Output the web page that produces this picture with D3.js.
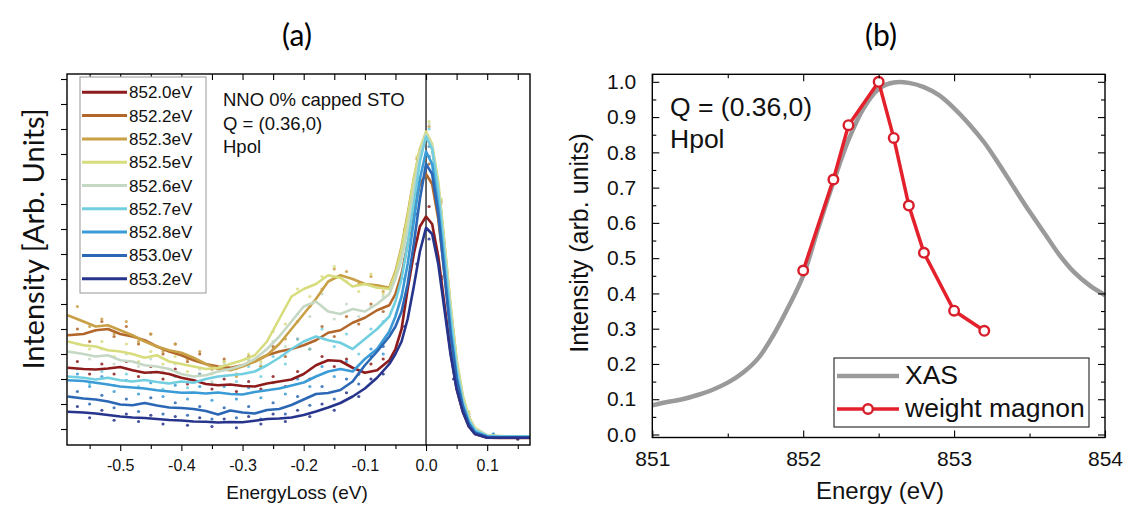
<!DOCTYPE html>
<html><head><meta charset="utf-8">
<script src="https://cdn.jsdelivr.net/npm/d3@7"></script>
<style>body{margin:0;background:#fff}svg{display:block}</style>
</head><body>
<svg id="c" width="1127" height="510"></svg>
<script>
// ---------------- Panel (a) data ----------------
const lossGrid = [-0.586,-0.56,-0.54,-0.52,-0.50,-0.48,-0.46,-0.44,-0.42,-0.40,-0.38,-0.36,-0.34,-0.32,-0.30,-0.28,-0.26,-0.24,-0.22,-0.20,-0.18,-0.16,-0.14,-0.12,-0.10,-0.08,-0.06,
  -0.05,-0.04,-0.03,-0.02,-0.01,0.00,0.01,0.02,0.03,0.04,0.05,0.06,0.07,0.08,
  0.10,0.12,0.14,0.17];
const legendLabelsA = ["852.0eV","852.2eV","852.3eV","852.5eV","852.6eV","852.7eV","852.8eV","853.0eV","853.2eV"];
const i852_0 = [2.45,2.40,2.38,2.42,2.48,2.35,2.25,2.28,2.20,2.05,1.95,1.80,1.75,1.78,1.72,1.70,1.82,1.90,1.98,2.20,2.55,2.75,2.72,2.45,2.25,2.35,2.75,
  3.20,4.0,5.6,7.0,8.1,8.5,8.2,6.9,5.0,3.1,1.6,0.7,0.1,-0.2, -0.35,-0.36,-0.36,-0.36];
const i852_2 = [3.75,3.80,3.95,4.00,3.80,3.70,3.55,3.30,3.10,2.95,2.75,2.60,2.50,2.45,2.55,2.70,2.95,3.10,3.20,3.35,3.55,3.85,3.95,4.25,4.45,4.75,4.95,
  5.4,6.2,7.4,8.7,9.8,10.2,9.8,8.4,6.3,4.1,2.2,1.0,0.3,-0.1, -0.30,-0.32,-0.32,-0.32];
const i852_3 = [4.55,4.30,4.10,4.15,3.95,3.75,3.50,3.30,3.15,3.05,2.85,2.60,2.40,2.35,2.50,2.70,2.95,3.40,4.00,4.60,5.20,5.90,6.15,6.00,5.80,5.75,5.65,
  6.3,7.3,8.6,10.0,11.2,11.7,11.2,9.7,7.4,4.9,2.7,1.3,0.45,0.0, -0.28,-0.30,-0.30,-0.30];
const i852_5 = [3.50,3.35,3.30,3.15,3.10,3.00,2.85,2.95,2.70,2.60,2.50,2.40,2.45,2.60,2.75,2.95,3.50,4.40,5.30,5.60,5.80,6.15,6.05,5.70,5.80,5.65,5.60,
  6.2,7.2,8.5,10.0,11.2,11.9,11.4,9.9,7.5,5.0,2.8,1.35,0.5,0.05, -0.25,-0.28,-0.30,-0.30];
const i852_6 = [3.10,3.00,2.90,2.95,2.75,2.70,2.55,2.50,2.40,2.20,2.10,2.15,2.30,2.40,2.55,2.80,3.20,3.70,4.30,4.90,5.10,4.70,4.60,4.80,4.70,5.00,5.40,
  6.0,6.8,8.0,9.6,11.0,11.8,11.3,9.7,7.3,4.8,2.6,1.2,0.4,0.0, -0.25,-0.28,-0.30,-0.30];
const i852_7 = [2.10,2.05,1.98,2.05,1.95,1.90,1.96,1.88,1.82,1.90,1.85,2.00,2.10,2.15,2.20,2.30,2.55,2.85,3.20,3.50,3.70,3.55,3.45,3.20,3.60,4.00,4.50,
  5.1,6.0,7.4,9.0,10.7,11.7,11.2,9.5,7.0,4.5,2.4,1.1,0.35,-0.05, -0.28,-0.30,-0.30,-0.30];
const i852_8 = [1.95,1.92,1.85,1.78,1.70,1.66,1.62,1.55,1.50,1.45,1.46,1.42,1.46,1.40,1.38,1.48,1.55,1.62,1.74,1.86,2.10,2.30,2.40,2.30,2.80,3.20,3.90,
  4.5,5.3,6.6,8.3,10.0,11.1,10.6,8.9,6.5,4.0,2.1,0.95,0.25,-0.12, -0.30,-0.32,-0.32,-0.32];
const i853_0 = [1.30,1.22,1.18,1.10,0.98,0.95,1.04,0.94,0.86,0.84,0.80,0.72,0.58,0.74,0.66,0.62,0.76,0.80,0.96,1.18,1.40,1.44,1.56,1.90,2.55,3.10,3.70,
  4.1,4.7,5.8,7.4,9.2,10.6,10.2,8.6,6.2,3.8,2.0,0.9,0.2,-0.15, -0.32,-0.33,-0.33,-0.33];
const i853_2 = [0.69,0.66,0.62,0.56,0.50,0.46,0.44,0.40,0.36,0.34,0.30,0.29,0.26,0.28,0.27,0.33,0.40,0.42,0.46,0.56,0.70,0.86,1.04,1.30,1.62,2.05,2.60,
  3.0,3.5,4.4,5.7,7.1,8.05,7.8,6.6,4.8,3.0,1.6,0.7,0.1,-0.2, -0.35,-0.35,-0.35,-0.35];

// raw data points (dots)
const dotGrid = [-0.57,-0.55,-0.53,-0.51,-0.49,-0.47,-0.45,-0.43,-0.41,-0.39,-0.37,-0.35,-0.33,-0.31,-0.29,-0.27,-0.25,-0.23,-0.21,-0.19,-0.17,-0.15,-0.13,-0.11,-0.09,-0.07,
  -0.035,-0.015,0.005,0.025,0.045,0.07,0.11,0.15];
const d852_0 = [2.7,2.2,2.6,2.2,2.7,2.1,2.5,2.0,2.4,1.8,2.2,1.6,2.0,1.5,1.9,1.6,2.1,1.7,2.3,2.0,2.9,2.5,2.8,2.2,2.6,2.8, 4.9,7.6,8.9,6.1,2.4,0.2,-0.3,-0.4];
const d852_2 = [4.0,3.5,4.3,3.7,4.1,3.4,3.8,3.0,3.4,2.7,3.0,2.4,2.8,2.2,2.9,2.5,3.3,2.9,3.6,3.2,4.1,3.7,4.5,4.2,5.0,4.7, 6.8,9.5,10.6,8.2,3.3,0.5,-0.25,-0.35];
const d852_3 = [4.9,4.1,4.4,3.8,4.3,3.5,3.8,3.1,3.4,2.8,3.1,2.4,2.7,2.1,2.7,2.5,3.2,3.6,4.3,4.9,5.6,6.4,6.3,5.8,6.1,5.5, 8.0,10.8,12.1,9.1,3.7,0.6,-0.25,-0.3];
const d852_5 = [3.8,3.2,3.5,2.9,3.4,2.7,3.1,2.6,2.9,2.3,2.7,2.2,2.7,2.4,3.0,2.7,3.9,4.2,5.6,5.3,6.1,6.5,5.9,5.5,6.2,5.4, 7.9,10.9,12.3,9.2,3.8,0.7,-0.2,-0.3];
const d852_6 = [3.4,2.8,3.2,2.6,3.0,2.5,2.8,2.3,2.6,2.0,2.4,1.9,2.6,2.2,2.8,2.6,3.5,3.3,4.6,4.5,5.4,4.4,5.0,4.5,4.9,5.3, 7.3,10.5,12.2,9.0,3.6,0.6,-0.2,-0.3];
const d852_7 = [2.4,1.8,2.3,1.75,2.2,1.7,2.25,1.6,2.1,1.65,2.2,1.8,2.4,1.9,2.5,2.1,2.9,2.6,3.6,3.2,4.0,3.3,3.8,3.0,4.0,4.3, 6.7,10.1,12.0,8.7,3.3,0.5,-0.2,-0.3];
const d852_8 = [2.2,1.7,2.1,1.5,1.95,1.4,1.85,1.3,1.75,1.2,1.7,1.15,1.7,1.2,1.65,1.25,1.85,1.4,2.0,1.7,2.5,2.1,2.7,2.2,3.2,3.0, 6.0,9.4,11.3,8.0,2.8,0.4,-0.2,-0.35];
const d853_0 = [1.5,1.0,1.35,0.85,1.2,0.7,1.25,0.6,1.05,0.55,0.9,0.4,0.85,0.45,0.9,0.4,1.05,0.6,1.3,0.95,1.7,1.2,2.0,1.8,2.9,3.3, 5.2,8.6,10.9,7.6,2.7,0.3,-0.25,-0.35];
const d853_2 = [0.9,0.45,0.75,0.35,0.6,0.3,0.55,0.2,0.5,0.15,0.45,0.1,0.4,0.05,0.5,0.2,0.6,0.3,0.75,0.5,1.0,0.75,1.45,1.3,2.0,2.2, 4.1,6.6,7.6,6.0,2.0,0.2,-0.3,-0.4];

const linesA = [i852_0,i852_2,i852_3,i852_5,i852_6,i852_7,i852_8,i853_0,i853_2];
const dotsA  = [d852_0,d852_2,d852_3,d852_5,d852_6,d852_7,d852_8,d853_0,d853_2];
const colorsA = ["#8e1c1c","#b2662a","#c9a046","#d7dc7c","#c5d8c4","#72cfe0","#3b9bd6","#2b67b4","#27348c"];

const lossTicks = [-0.5,-0.4,-0.3,-0.2,-0.1,0.0,0.1];
const lossMinor = [-0.55,-0.45,-0.35,-0.25,-0.15,-0.05,0.05,0.15];
const intTicksA = d3.range(0, 15);

// ---------------- Panel (b) data ----------------
const xasEnergy = [851.0,851.1,851.2,851.3,851.4,851.5,851.6,851.7,851.8,851.9,852.0,852.1,852.2,852.3,852.4,852.5,852.6,852.7,852.8,852.9,853.0,853.1,853.2,853.3,853.4,853.5,853.6,853.7,853.8,853.9,854.0];
const xasIntensity = [0.083,0.092,0.100,0.112,0.127,0.147,0.175,0.215,0.280,0.360,0.450,0.585,0.715,0.835,0.925,0.980,0.998,0.997,0.985,0.962,0.925,0.880,0.828,0.765,0.698,0.632,0.570,0.508,0.458,0.422,0.395];
const magnonEnergy = [852.0,852.2,852.3,852.5,852.6,852.7,852.8,853.0,853.2];
const magnonWeight = [0.465,0.723,0.877,1.0,0.841,0.649,0.515,0.351,0.294];
const energyTicks = [851,852,853,854];
const energyMinor = [851.5,852.5,853.5];
const intTicksB = [0,0.1,0.2,0.3,0.4,0.5,0.6,0.7,0.8,0.9,1.0];
const intMinorB = [0.05,0.15,0.25,0.35,0.45,0.55,0.65,0.75,0.85,0.95];

// ---------------- Drawing ----------------
const svg = d3.select("#c");
const SANS = "'Liberation Sans', Arial, sans-serif";
const CAL = "Lato, 'Open Sans', sans-serif";

// ===== Panel (a) =====
const A = {l:67, r:530, t:74, b:445};
const xa = d3.scaleLinear().domain([-0.587, 0.17]).range([A.l, A.r]);
const ya = d3.scaleLinear().domain([-0.64, 14.2]).range([A.b, A.t]);
const gA = svg.append("g");

gA.append("text").attr("x", 297).attr("y", 46).attr("text-anchor","middle")
  .attr("font-family", CAL).attr("font-size", 30).text("(a)");

gA.append("line").attr("x1", xa(0)).attr("x2", xa(0)).attr("y1", A.t).attr("y2", A.b)
  .attr("stroke", "#000").attr("stroke-width", 1.2);

const lineA = d3.line().x((d,i)=>xa(lossGrid[i])).y(d=>ya(d)).curve(d3.curveLinear);
dotsA.forEach((arr, k) => {
  gA.append("g").selectAll("circle").data(arr).join("circle")
    .attr("cx", (d,i)=>xa(dotGrid[i])).attr("cy", d=>ya(d)).attr("r", 1.6)
    .attr("fill", colorsA[k]).attr("opacity", 0.85);
});
linesA.forEach((arr, k) => {
  gA.append("path").datum(arr).attr("d", lineA).attr("fill","none")
    .attr("stroke", colorsA[k]).attr("stroke-width", 2.6).attr("stroke-linejoin","round");
});

// frame
gA.append("rect").attr("x", A.l).attr("y", A.t).attr("width", A.r-A.l).attr("height", A.b-A.t)
  .attr("fill","none").attr("stroke","#000").attr("stroke-width",1.4);

// axes ticks
function styleAxis(g){ g.select(".domain").remove(); g.selectAll("line").attr("stroke","#000").attr("stroke-width",1.1); }
gA.append("g").attr("transform",`translate(0,${A.b})`)
  .call(d3.axisBottom(xa).tickValues(lossTicks).tickSize(6).tickPadding(9).tickFormat(d=>d.toFixed(1)))
  .call(styleAxis).selectAll("text").attr("font-family",SANS).attr("font-size",16).attr("fill","#111");
gA.append("g").attr("transform",`translate(0,${A.b})`)
  .call(d3.axisBottom(xa).tickValues(lossMinor).tickSize(4).tickFormat(""))
  .call(styleAxis);
gA.append("g").attr("transform",`translate(0,${A.t})`)
  .call(d3.axisTop(xa).tickValues(lossTicks.concat(lossMinor)).tickSize(-6).tickFormat(""))
  .call(styleAxis);
gA.append("g").attr("transform",`translate(${A.l},0)`)
  .call(d3.axisLeft(ya).tickValues(intTicksA).tickSize(6).tickFormat(""))
  .call(styleAxis);

gA.append("text").attr("x", 297).attr("y", 499).attr("text-anchor","middle")
  .attr("font-family",SANS).attr("font-size",19).attr("fill","#111").text("EnergyLoss (eV)");
gA.append("text").attr("transform","translate(44,239) rotate(-90)").attr("text-anchor","middle")
  .attr("font-family",CAL).attr("font-size",29).attr("fill","#111").text("Intensity [Arb. Units]");

// legend (a)
const legA = gA.append("g");
legA.append("rect").attr("x",80).attr("y",77).attr("width",126).attr("height",216)
  .attr("fill","#fff").attr("stroke","#a8a8a8").attr("stroke-width",1.2);
legendLabelsA.forEach((lab,k)=>{
  const yy = 92.3 + k*23.3;
  legA.append("line").attr("x1",82).attr("x2",127).attr("y1",yy).attr("y2",yy)
    .attr("stroke",colorsA[k]).attr("stroke-width",3);
  legA.append("text").attr("x",129).attr("y",yy+6).attr("font-family",SANS).attr("font-size",17)
    .attr("fill","#111").text(lab);
});

// annotation (a)
const annA = ["NNO 0% capped STO","Q = (0.36,0)","Hpol"];
annA.forEach((t,k)=>{
  gA.append("text").attr("x",223).attr("y",106+k*23.5).attr("font-family",SANS).attr("font-size",18.5)
    .attr("fill","#111").text(t);
});

// ===== Panel (b) =====
const B = {l:652.3, r:1105, t:74.3, b:437.5};
const xb = d3.scaleLinear().domain([851, 854]).range([B.l, B.r]);
const yb = d3.scaleLinear().domain([-0.0085, 1.0213]).range([B.b, B.t]);
const gB = svg.append("g");

gB.append("text").attr("x", 881).attr("y", 46).attr("text-anchor","middle")
  .attr("font-family", CAL).attr("font-size", 30).text("(b)");

gB.append("path").datum(xasIntensity)
  .attr("d", d3.line().x((d,i)=>xb(xasEnergy[i])).y(d=>yb(d)).curve(d3.curveCatmullRom))
  .attr("fill","none").attr("stroke","#9a9a9a").attr("stroke-width",4.5);
gB.append("path").datum(magnonWeight)
  .attr("d", d3.line().x((d,i)=>xb(magnonEnergy[i])).y(d=>yb(d)))
  .attr("fill","none").attr("stroke","#e3202b").attr("stroke-width",3.5);
gB.append("g").selectAll("circle").data(magnonWeight).join("circle")
  .attr("cx",(d,i)=>xb(magnonEnergy[i])).attr("cy",d=>yb(d)).attr("r",4.8)
  .attr("fill","#fff").attr("stroke","#d81e2a").attr("stroke-width",2.4);

gB.append("rect").attr("x",B.l).attr("y",B.t).attr("width",B.r-B.l).attr("height",B.b-B.t)
  .attr("fill","none").attr("stroke","#000").attr("stroke-width",1.4);

gB.append("g").attr("transform",`translate(0,${B.b})`)
  .call(d3.axisBottom(xb).tickValues(energyTicks).tickSize(-7).tickPadding(10).tickFormat(d3.format("d")))
  .call(styleAxis).selectAll("text").attr("font-family",SANS).attr("font-size",21).attr("fill","#111").attr("dy","0.9em");
gB.append("g").attr("transform",`translate(0,${B.b})`)
  .call(d3.axisBottom(xb).tickValues(energyMinor).tickSize(-4).tickFormat("")).call(styleAxis);
gB.append("g").attr("transform",`translate(0,${B.t})`)
  .call(d3.axisTop(xb).tickValues(energyTicks).tickSize(-7).tickFormat("")).call(styleAxis);
gB.append("g").attr("transform",`translate(0,${B.t})`)
  .call(d3.axisTop(xb).tickValues(energyMinor).tickSize(-4).tickFormat("")).call(styleAxis);
gB.append("g").attr("transform",`translate(${B.l},0)`)
  .call(d3.axisLeft(yb).tickValues(intTicksB).tickSize(-7).tickPadding(16).tickFormat(d=>d.toFixed(1)))
  .call(styleAxis).selectAll("text").attr("font-family",SANS).attr("font-size",21).attr("fill","#111");
gB.append("g").attr("transform",`translate(${B.l},0)`)
  .call(d3.axisLeft(yb).tickValues(intMinorB).tickSize(-4).tickFormat("")).call(styleAxis);
gB.append("g").attr("transform",`translate(${B.r},0)`)
  .call(d3.axisRight(yb).tickValues(intTicksB).tickSize(-7).tickFormat("")).call(styleAxis);
gB.append("g").attr("transform",`translate(${B.r},0)`)
  .call(d3.axisRight(yb).tickValues(intMinorB).tickSize(-4).tickFormat("")).call(styleAxis);

gB.append("text").attr("x", 880).attr("y", 499).attr("text-anchor","middle")
  .attr("font-family",SANS).attr("font-size",24).attr("fill","#111").text("Energy (eV)");
gB.append("text").attr("transform","translate(588,243) rotate(-90)").attr("text-anchor","middle")
  .attr("font-family",SANS).attr("font-size",25).attr("fill","#111").text("Intensity (arb. units)");

// annotation (b)
gB.append("text").attr("x",670).attr("y",116).attr("font-family",SANS).attr("font-size",26.5).attr("fill","#111").text("Q = (0.36,0)");
gB.append("text").attr("x",670).attr("y",148).attr("font-family",SANS).attr("font-size",26.5).attr("fill","#111").text("Hpol");

// legend (b)
const legB = gB.append("g");
legB.append("rect").attr("x",834).attr("y",358).attr("width",255).attr("height",69)
  .attr("fill","#fff").attr("stroke","#333").attr("stroke-width",1.2);
legB.append("line").attr("x1",837).attr("x2",899).attr("y1",376).attr("y2",376)
  .attr("stroke","#9a9a9a").attr("stroke-width",4.5);
legB.append("text").attr("x",905).attr("y",384).attr("font-family",SANS).attr("font-size",26.5).attr("fill","#111").text("XAS");
legB.append("line").attr("x1",837).attr("x2",899).attr("y1",409).attr("y2",409)
  .attr("stroke","#e3202b").attr("stroke-width",3.5);
legB.append("circle").attr("cx",868).attr("cy",409).attr("r",4.8)
  .attr("fill","#fff").attr("stroke","#d81e2a").attr("stroke-width",2.4);
legB.append("text").attr("x",905).attr("y",417).attr("font-family",SANS).attr("font-size",26.5).attr("fill","#111").text("weight magnon");
</script>
</body></html>
